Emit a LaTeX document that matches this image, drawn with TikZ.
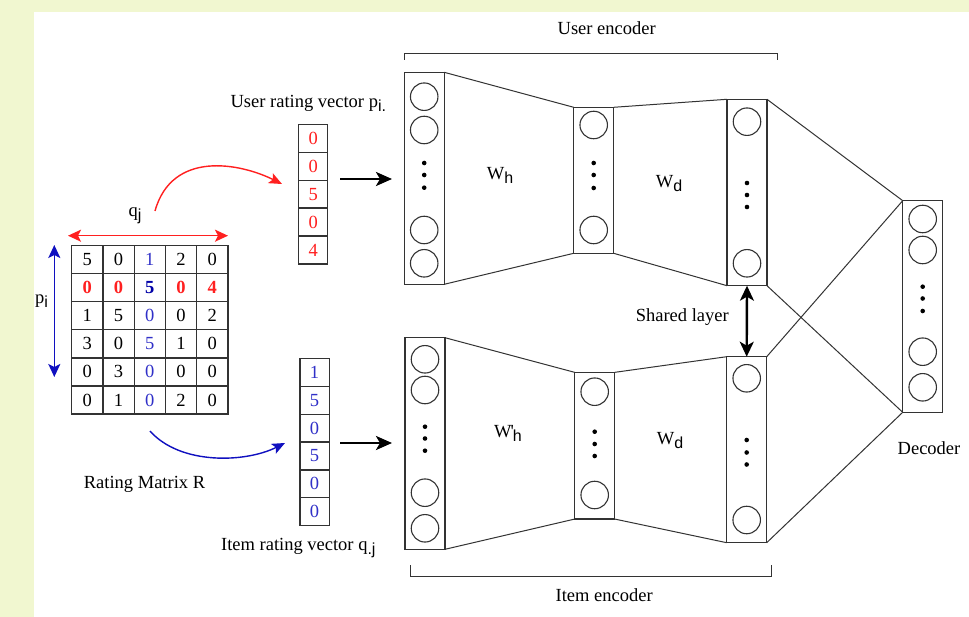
\documentclass[tikz,border=0pt]{standalone}
\usepackage{fontspec}
\setmainfont{Liberation Serif}
\setsansfont{Liberation Sans}
\usetikzlibrary{arrows.meta}
\definecolor{bgy}{HTML}{F1F7D0}
\definecolor{lc}{HTML}{333333}
\definecolor{rr}{HTML}{FF2020}
\definecolor{bb}{HTML}{3030C8}
\definecolor{db}{HTML}{0000A8}
\definecolor{ab}{HTML}{1010C0}
\newcommand{\lowsub}[1]{\raisebox{-4pt}{\fontsize{16}{16}\selectfont\sffamily #1}}
\begin{document}
\begin{tikzpicture}[x=1pt,y=-1pt,
  every node/.style={font=\fontsize{18.5}{22}\selectfont, inner sep=0pt, outer sep=0pt},
  cell/.style={draw=lc, line width=1.2pt, minimum width=31.3pt, minimum height=28pt},
  vcell/.style={draw=lc, line width=1.2pt, minimum width=29.3pt, minimum height=27.9pt},
  layer/.style={draw=lc, line width=1.2pt, minimum width=40pt},
  neuron/.style={draw=lc, circle, line width=1.1pt, minimum size=27.5pt},
  ndot/.style={fill=black, circle, minimum size=4.6pt},
  conn/.style={draw=lc, line width=1pt},
  lbl/.style={anchor=base},
  bigarrow/.style={line width=2.6pt, -{Stealth[length=16pt,width=14pt,inset=4pt]}},
  sharedarrow/.style={line width=2.4pt, {Stealth[length=15pt,width=14pt,inset=4pt]}-{Stealth[length=15pt,width=14pt,inset=4pt]}},
  thinboth/.style={line width=1.5pt, {Stealth[length=13pt,width=12pt,inset=3pt]}-{Stealth[length=13pt,width=12pt,inset=3pt]}},
  curvearrow/.style={line width=1.4pt, -{Stealth[length=13pt,width=11pt,inset=3pt]}}
]
\useasboundingbox (0,0) rectangle (969,617);
\fill[bgy] (0,0) rectangle (969,617);
\fill[white] (34,12) rectangle (969,617);

% rating matrix
\foreach \row [count=\r] in {{5,0,1,2,0},{0,0,5,0,4},{1,5,0,0,2},{3,0,5,1,0},{0,3,0,0,0},{0,1,0,2,0}}{
  \foreach \v [count=\c] in \row {
    \node[cell] (m\r\c) at ({71.7+(\c-0.5)*31.26},{245.7+(\r-0.5)*28.05})
      {\ifnum\c=3 \color{bb}\fi\ifnum\r=2 \bfseries\ifnum\c=3 \color{db}\else\color{rr}\fi\fi\v};
  }
}
\coordinate (qa) at (68,235.7);
\coordinate (qb) at (228,235.7);
\draw[rr, thinboth] (qa) -- (qb);
\node[lbl] (qlab) at (135,217) {q\lowsub{j}};
\coordinate (pa) at (54.3,245);
\coordinate (pb) at (54.3,377);
\draw[ab, thinboth] (pa) -- (pb);
\node[lbl] (plab) at (41.5,303.5) {p\lowsub{i}};
\node[lbl] (rlab) at (144.5,488) {Rating Matrix R};

% user vector
\foreach \v [count=\k] in {0,0,5,0,4}{
  \node[vcell, text=rr] (uv\k) at (313.2,{124.3+(\k-0.5)*27.94}) {\v};
}
\node[lbl] (uvlab) at (308.3,108) {User rating vector p\lowsub{i.}};
% item vector
\foreach \v [count=\k] in {1,5,0,5,0,0}{
  \node[vcell, text=bb] (iv\k) at (314.6,{358.3+(\k-0.5)*27.9}) {\v};
}
\node[lbl] (ivlab) at (298.3,550.5) {Item rating vector q\lowsub{.j}};

% curved arrows
\coordinate (rs) at (155,211);
\coordinate (re) at (282,184);
\draw[rr, curvearrow] (rs) .. controls (172,150) and (240,163) .. (re);
\coordinate (bs) at (150,431);
\coordinate (be) at (285,443);
\draw[ab, curvearrow] (bs) .. controls (180,465) and (245,463) .. (be);

% input arrows
\coordinate (ua0) at (340,179);
\coordinate (ua1) at (392,179);
\draw[bigarrow] (ua0) -- (ua1);
\coordinate (ia0) at (340,443);
\coordinate (ia1) at (392,443);
\draw[bigarrow] (ia0) -- (ia1);

% user encoder layers
\node[layer, minimum height=212pt] (u1) at (424.2,178.3) {};
\node[layer, minimum height=146pt] (u2) at (593.7,180.3) {};
\node[layer, minimum height=186.4pt] (u3) at (747,192.5) {};
% item encoder layers
\node[layer, minimum height=211.6pt] (i1) at (425,443.5) {};
\node[layer, minimum height=146.7pt] (i2) at (594.7,445.7) {};
\node[layer, minimum height=186pt] (i3) at (746.7,449.7) {};
% decoder
\node[layer, minimum height=211.6pt] (dec) at (922.7,306.5) {};

% neurons
\foreach \y [count=\k] in {96.7,130,230,263.3}{\node[neuron] (u1n\k) at (424.2,\y) {};}
\foreach \y [count=\k] in {163,175,187.7}{\node[ndot] (u1d\k) at (424.2,\y) {};}
\foreach \y [count=\k] in {125,230}{\node[neuron] (u2n\k) at (593.7,\y) {};}
\foreach \y [count=\k] in {163,175,188}{\node[ndot] (u2d\k) at (593.7,\y) {};}
\foreach \y [count=\k] in {121.7,263.3}{\node[neuron] (u3n\k) at (747,\y) {};}
\foreach \y [count=\k] in {183,195,207}{\node[ndot] (u3d\k) at (747,\y) {};}

\foreach \y [count=\k] in {359.3,390,492.7,528.3}{\node[neuron] (i1n\k) at (425,\y) {};}
\foreach \y [count=\k] in {426.7,438.5,450.7}{\node[ndot] (i1d\k) at (425,\y) {};}
\foreach \y [count=\k] in {391.7,495}{\node[neuron] (i2n\k) at (594.7,\y) {};}
\foreach \y [count=\k] in {431.7,444,456}{\node[ndot] (i2d\k) at (594.7,\y) {};}
\foreach \y [count=\k] in {378.3,520}{\node[neuron] (i3n\k) at (746.7,\y) {};}
\foreach \y [count=\k] in {440,452.5,464.5}{\node[ndot] (i3d\k) at (746.7,\y) {};}

\foreach \y [count=\k] in {219,250,351.7,387.3}{\node[neuron] (dn\k) at (922.7,\y) {};}
\foreach \y [count=\k] in {286.7,298.5,311}{\node[ndot] (dd\k) at (922.7,\y) {};}

% connectors
\draw[conn] (u1.north east) -- (u2.north west);
\draw[conn] (u1.south east) -- (u2.south west);
\draw[conn] (u2.north east) -- (u3.north west);
\draw[conn] (u2.south east) -- (u3.south west);
\draw[conn] (i1.north east) -- (i2.north west);
\draw[conn] (i1.south east) -- (i2.south west);
\draw[conn] (i2.north east) -- (i3.north west);
\draw[conn] (i2.south east) -- (i3.south west);
\draw[conn] (u3.north east) -- (dec.north west);
\draw[conn] (u3.south east) -- (dec.south west);
\draw[conn] (i3.north east) -- (dec.north west);
\draw[conn] (i3.south east) -- (dec.south west);

% shared layer
\draw[sharedarrow] (u3.south) -- (i3.north);
\node[lbl] (shlab) at (682.3,321.7) {Shared layer};

% weight labels
\node[lbl] (wh) at (500,180) {W\lowsub{h}};
\node[lbl] (wd) at (669,188) {W\lowsub{d}};
\node[lbl] (wph) at (508,437) {W\kern-1pt\textquotesingle\kern-1pt\lowsub{h}};
\node[lbl] (wd2) at (670,444) {W\lowsub{d}};

% brackets
\draw[conn] (404,60) -- (404,54) -- (777.7,54) -- (777.7,60);
\node[lbl] (uelab) at (606.7,35) {User encoder};
\draw[conn] (410.7,565) -- (410.7,576.7) -- (771,576.7) -- (771,565);
\node[lbl] (ielab) at (604.2,601.7) {Item encoder};
\node[lbl] (declab) at (929,454) {Decoder};
\end{tikzpicture}
\end{document}
